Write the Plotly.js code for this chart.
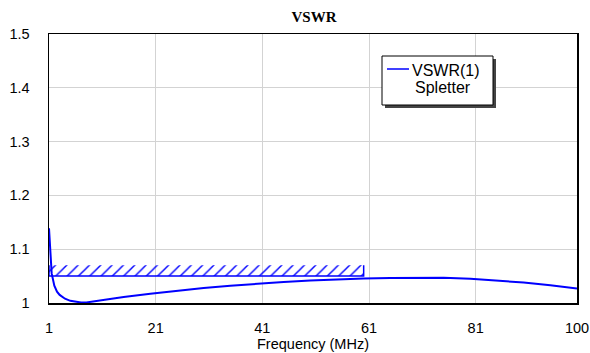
<!DOCTYPE html>
<html>
<head>
<meta charset="utf-8">
<script src="https://cdn.plot.ly/plotly-3.0.1.min.js"></script>
<style>
  html, body { margin: 0; padding: 0; background: #fff; }
  #chart { width: 590px; height: 353px; }
</style>
</head>
<body>
<div id="chart"></div>
<script>
// Frequency sweep (MHz) and measured VSWR at port 1 of the splitter
const freqMHz = [1, 1.2, 1.5, 2, 2.5, 3, 4, 5, 6, 7, 8, 10, 12, 15, 20, 25, 30, 35, 40, 45, 50, 55, 60, 65, 70, 75, 80, 85, 90, 95, 100];
const vswr    = [1.139, 1.10, 1.055, 1.032, 1.021, 1.015, 1.008, 1.004, 1.002, 1.001, 1.001, 1.004, 1.007, 1.011, 1.017, 1.023, 1.028, 1.032, 1.036, 1.039, 1.042, 1.044, 1.0455, 1.0465, 1.047, 1.047, 1.045, 1.042, 1.038, 1.033, 1.027];

// Spec mask: VSWR limit band over the specified passband
const maskFreq = [1, 1, 60, 60];
const maskVswr = [1.07, 1.05, 1.05, 1.07];

const xTicks = [1, 21, 41, 61, 81, 100];
const yTicks = [1, 1.1, 1.2, 1.3, 1.4, 1.5];
const yTickText = ['1', '1.1', '1.2', '1.3', '1.4', '1.5'];

const legendLines = ['VSWR(1)', 'Spletter'];

const font = 'Liberation Sans, Arial, sans-serif';
const blue = '#0000ff';

// plot area in pixels, used to place the legend box in paper units
const M = { l: 49, r: 13, t: 34, b: 50 };
const W = 590, H = 353;
const pw = W - M.l - M.r, ph = H - M.t - M.b;
const px = v => (v - M.l) / pw;
const py = v => (H - M.b - v) / ph;

const traces = [
  {
    x: maskFreq, y: maskVswr,
    type: 'scatter', mode: 'lines',
    fill: 'toself',
    fillcolor: 'rgba(0,0,0,0)',
    fillpattern: { shape: '/', fgcolor: blue, bgcolor: 'rgba(0,0,0,0)', size: 8, solidity: 0.18 },
    line: { color: blue, width: 1.5 },
    showlegend: false, hoverinfo: 'skip'
  },
  {
    x: freqMHz, y: vswr,
    type: 'scatter', mode: 'lines',
    name: legendLines.join(' '),
    line: { color: blue, width: 2 },
    showlegend: false
  }
];

const layout = {
  width: W, height: H,
  margin: M,
  paper_bgcolor: '#fff', plot_bgcolor: '#fff',
  font: { family: font, size: 14.5, color: '#000' },
  title: {
    text: '<b>VSWR</b>',
    font: { family: 'Liberation Serif, Times New Roman, serif', size: 15, color: '#000' },
    x: px(314) * pw / W + M.l / W, xanchor: 'center', y: 1 - 17 / H, yanchor: 'middle'
  },
  xaxis: {
    range: [1, 100], tickvals: xTicks, ticktext: xTicks.map(String),
    showgrid: true, gridcolor: '#d3d3d3', gridwidth: 1,
    showline: true, linecolor: '#000', linewidth: 1.5, mirror: true,
    ticks: '', ticklabelstandoff: 11, zeroline: false,
    tickfont: { size: 14.5 },
    title: { text: 'Frequency (MHz)', standoff: 2, font: { size: 14.5 } }
  },
  yaxis: {
    range: [1, 1.5], tickvals: yTicks, ticktext: yTickText,
    showgrid: true, gridcolor: '#d3d3d3', gridwidth: 1,
    showline: true, linecolor: '#000', linewidth: 1.5, mirror: true,
    ticks: '', ticklabelstandoff: 15, zeroline: false,
    tickfont: { size: 14.5 }
  },
  shapes: [
    // legend drop shadow
    { type: 'rect', xref: 'paper', yref: 'paper', layer: 'above',
      x0: px(385), x1: px(496), y0: py(108), y1: py(59),
      fillcolor: '#444', line: { width: 0 } },
    // legend box
    { type: 'rect', xref: 'paper', yref: 'paper', layer: 'above',
      x0: px(382), x1: px(493), y0: py(105), y1: py(56),
      fillcolor: '#fff', line: { color: '#000', width: 1 } },
    // legend line sample
    { type: 'line', xref: 'paper', yref: 'paper', layer: 'above',
      x0: px(387), x1: px(409), y0: py(69), y1: py(69),
      line: { color: blue, width: 1.5 } }
  ],
  annotations: [
    { xref: 'paper', yref: 'paper', x: px(410), y: py(70), xanchor: 'left', yanchor: 'middle',
      text: legendLines[0], showarrow: false, font: { family: font, size: 16, color: '#000' } },
    { xref: 'paper', yref: 'paper', x: px(413), y: py(87), xanchor: 'left', yanchor: 'middle',
      text: legendLines[1], showarrow: false, font: { family: font, size: 16, color: '#000' } }
  ]
};

Plotly.newPlot('chart', traces, layout, { displayModeBar: false, staticPlot: true });
</script>
</body>
</html>
